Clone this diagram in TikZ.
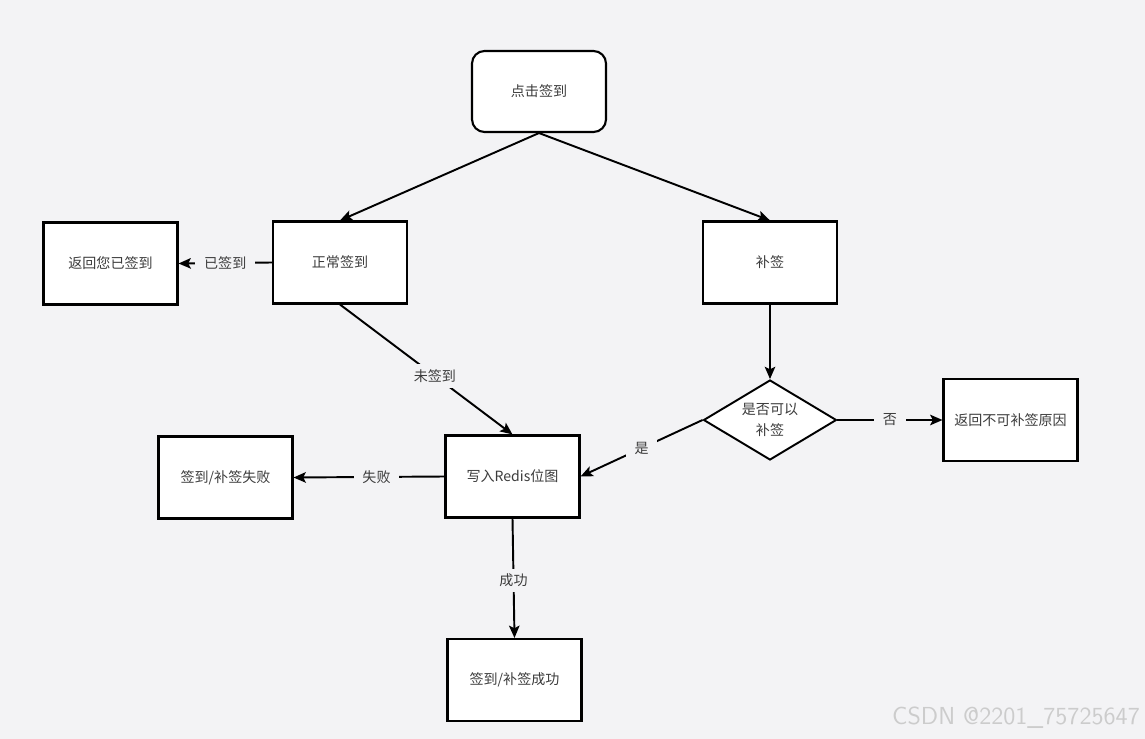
\documentclass[tikz,border=0pt]{standalone}
\usepackage{fontspec}
\setmainfont{Noto Sans CJK SC}
\usetikzlibrary{positioning, arrows.meta, shapes.geometric}
\definecolor{backColor}{RGB}{243,243,245}
\definecolor{textColor}{RGB}{60,60,60}
\tikzstyle{chart} = [x = 0.02cm, y = -0.02cm]
\tikzstyle{stepBox} = [draw=black, fill=white, line width=1.2pt, minimum width=2.68cm, minimum height=1.64cm, inner sep=0pt, font=\fontsize{8}{10}\selectfont, text=textColor]
\tikzstyle{startBox} = [stepBox, rounded corners = .25cm, minimum height=1.62cm]
\tikzstyle{choiceBox} = [diamond, draw=black, fill=white, line width=1.1pt, minimum width=2.66cm, minimum height=1.6cm, inner sep=0pt, aspect=1.66, align=center, font=\fontsize{8}{12}\selectfont, text=textColor]
\tikzstyle{flowLine} = [draw=black, line width=1.1pt, -{Stealth[length=7pt, width=6pt, inset=1.5pt]}]
\tikzstyle{flowText} = [fill=backColor, inner xsep=5pt, inner ysep=3pt, font=\fontsize{8}{10}\selectfont, text=textColor]

\begin{document}
\begin{tikzpicture}[chart]
  \fill [backColor] (0,0) rectangle (1145,739);
  \useasboundingbox (0,0) rectangle (1145,739);

  % nodes
  \node [startBox] (click) at (539, 91.5) {点击签到};
  \node [stepBox] (normalSign) at (340, 262.5) {正常签到};
  \node [stepBox] (reSign) at (770, 262.5) {补签};
  \node [stepBox] (signedBack) at (110.5, 263.5) {返回您已签到};
  \node [choiceBox] (canReSign) at (770, 420) {是否可以\\补签};
  \node [stepBox] (reasonBack) at (1010.5, 420) {返回不可补签原因};
  \node [stepBox] (writeBitmap) at (512.5, 476.5) {写入Redis位图};
  \node [stepBox] (signFail) at (225.5, 477.5) {签到/补签失败};
  \node [stepBox] (signOk) at (514.5, 680) {签到/补签成功};

  % connectors
  \draw [flowLine] (click.south) -- (normalSign.north);
  \draw [flowLine] (click.south) -- (reSign.north);
  \draw [flowLine] (normalSign.west) -- node [flowText] {已签到} (signedBack.east);
  \draw [flowLine] (normalSign.south) -- node [flowText, pos=.55] {未签到} (writeBitmap.north);
  \draw [flowLine] (reSign.south) -- (canReSign.north);
  \draw [flowLine] (canReSign.east) -- node [flowText] {否} (reasonBack.west);
  \draw [flowLine] (canReSign.west) -- node [flowText, pos=.5] {是} (writeBitmap.east);
  \draw [flowLine] (writeBitmap.west) -- node [flowText, pos=.45] {失败} (signFail.east);
  \draw [flowLine] (writeBitmap.south) -- node [flowText, pos=.52] {成功} (signOk.north);

  % watermark
  \node [font=\fontsize{14}{16}\selectfont\sffamily, text=black!20] (mark) at (1016, 718) {CSDN @2201\_75725647};
\end{tikzpicture}
\end{document}
